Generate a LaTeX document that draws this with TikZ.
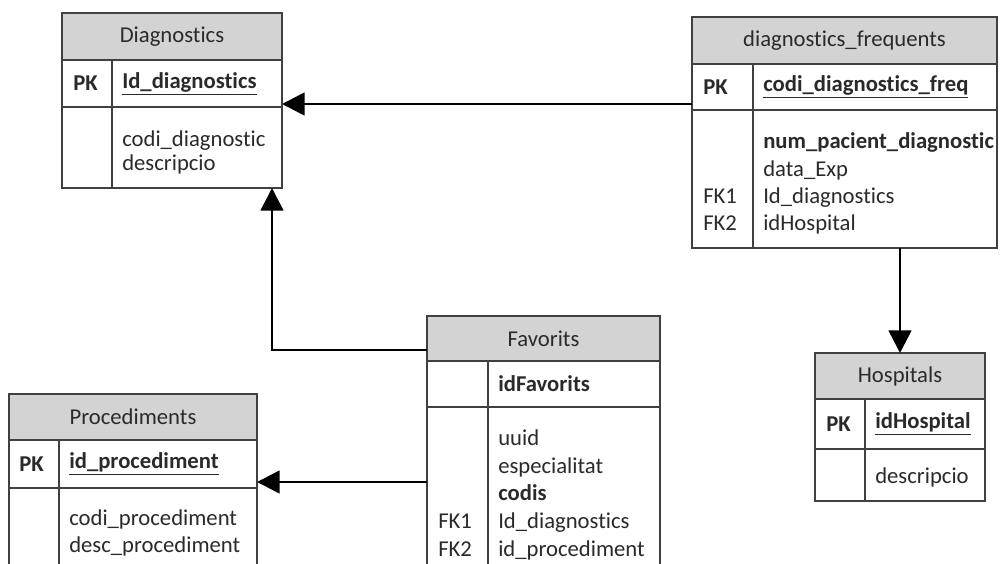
\documentclass[tikz,border=0pt]{standalone}
\usepackage{fontspec}
\setmainfont{Carlito}[Ligatures=NoCommon]
\usetikzlibrary{arrows.meta}
\definecolor{hdrfill}{HTML}{D3D3D3}
\definecolor{edge}{HTML}{404040}
\definecolor{ink}{HTML}{2A2A2A}
\def\u{0.75pt}
\tikzset{
  tbl/.style={draw=edge, line width=1.3pt, anchor=north west, inner sep=0pt, outer sep=0pt},
  hdr/.style={tbl, fill=hdrfill, text=ink},
  cell/.style={tbl, fill=white},
  txt/.style={anchor=base west, inner sep=0pt, text=ink},
  bold/.style={execute at begin node=\bfseries},
  key/.style={anchor=west, inner sep=0pt, text=ink, bold},
  divider/.style={draw=edge, line width=1.3pt},
  conn/.style={draw=black, line width=2pt, -{Triangle[length=17pt, width=17pt]}},
}
\begin{document}
\begin{tikzpicture}[x=0.75pt, y=-0.75pt, font=\fontsize{17}{20}\selectfont]
\clip (0,0) rectangle (1000,564);
\fill[white] (0,0) rectangle (1000,564);

% ---------- Diagnostics ----------
\node[hdr, minimum width=220*\u, minimum height=47*\u] (dH) at (62,13) {Diagnostics};
\node[cell, minimum width=220*\u, minimum height=47*\u] (dK) at (62,60) {};
\node[cell, minimum width=220*\u, minimum height=81*\u] (dB) at (62,107) {};
\draw[divider] (112,60) -- (112,188);
\node[key] (dpk) at (73,83.5) {PK};
\node[key] (dpkf) at (122,83.5) {\underline{Id\_diagnostics}};
\node[txt] (d1) at (122,146) {codi\_diagnostic};
\node[txt] (d2) at (122,170) {descripcio};

% ---------- diagnostics_frequents ----------
\node[hdr, minimum width=305*\u, minimum height=47*\u] (fH) at (692,17) {diagnostics\_frequents};
\node[cell, minimum width=305*\u, minimum height=46*\u] (fK) at (692,64) {};
\node[cell, minimum width=305*\u, minimum height=138*\u] (fB) at (692,110) {};
\draw[divider] (753,64) -- (753,248);
\node[key] (fpk) at (703,87) {PK};
\node[key] (fpkf) at (763,87) {\underline{codi\_diagnostics\_freq}};
\node[txt, bold] (f1) at (763,148) {num\_pacient\_diagnostic};
\node[txt] (f2) at (763,176) {data\_Exp};
\node[txt] (f3) at (763,203) {Id\_diagnostics};
\node[txt] (f4) at (763,230) {idHospital};
\node[txt] (f3k) at (703,203) {FK1};
\node[txt] (f4k) at (703,230) {FK2};

% ---------- Procediments ----------
\node[hdr, minimum width=248*\u, minimum height=46*\u] (pH) at (9,394) {Procediments};
\node[cell, minimum width=248*\u, minimum height=48*\u] (pK) at (9,440) {};
\node[cell, minimum width=248*\u, minimum height=112*\u] (pB) at (9,488) {};
\draw[divider] (59,440) -- (59,600);
\node[key] (ppk) at (19,464) {PK};
\node[key] (ppkf) at (69,464) {\underline{id\_procediment}};
\node[txt] (p1) at (69,525) {codi\_procediment};
\node[txt] (p2) at (69,552) {desc\_procediment};

% ---------- Favorits ----------
\node[hdr, minimum width=233*\u, minimum height=45*\u] (vH) at (427,316) {Favorits};
\node[cell, minimum width=233*\u, minimum height=46*\u] (vK) at (427,361) {};
\node[cell, minimum width=233*\u, minimum height=193*\u] (vB) at (427,407) {};
\draw[divider] (488,361) -- (488,600);
\node[key] (vpkf) at (498,384) {idFavorits};
\node[txt] (v1) at (498,445) {uuid};
\node[txt] (v2) at (498,473) {especialitat};
\node[txt, bold] (v3) at (498,500) {codis};
\node[txt] (v4) at (498,528) {Id\_diagnostics};
\node[txt] (v5) at (498,556) {id\_procediment};
\node[txt] (v4k) at (438,528) {FK1};
\node[txt] (v5k) at (438,556) {FK2};

% ---------- Hospitals ----------
\node[hdr, minimum width=170*\u, minimum height=46*\u] (hH) at (815,353) {Hospitals};
\node[cell, minimum width=170*\u, minimum height=50*\u] (hK) at (815,399) {};
\node[cell, minimum width=170*\u, minimum height=52*\u] (hB) at (815,449) {};
\draw[divider] (865,399) -- (865,501);
\node[key] (hpk) at (826,424) {PK};
\node[key] (hpkf) at (875,424) {\underline{idHospital}};
\node[txt] (h1) at (875,483) {descripcio};

% ---------- relationships ----------
\draw[conn] ([yshift=6*\u]fK.south west) -- ([yshift=6*\u]fK.south west -| dK.east);
\draw[conn] ([yshift=11*\u]vH.south west) -| ([xshift=-10*\u]dB.south east);
\draw[conn] ([yshift=6*\u]pK.south east -| vB.west) -- ([yshift=6*\u]pK.south east);
\draw[conn] (fB.south -| hH.north) -- (hH.north);
\end{tikzpicture}
\end{document}
